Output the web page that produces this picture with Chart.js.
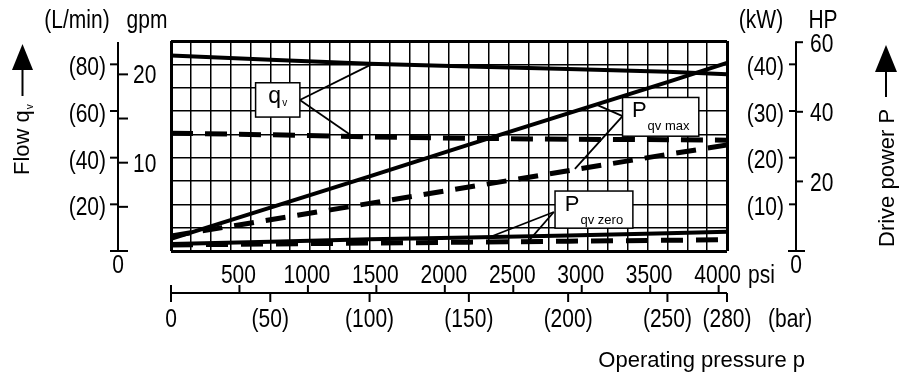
<!DOCTYPE html>
<html>
<head>
<meta charset="utf-8">
<script src="https://cdn.jsdelivr.net/npm/chart.js@4.4.1/dist/chart.umd.min.js"></script>
<style>
  html, body { margin: 0; padding: 0; background: #fff; }
  #wrap { width: 907px; height: 376px; }
</style>
</head>
<body>
<div id="wrap"><canvas id="c" width="907" height="376"></canvas></div>
<script>
// Operating pressure sample points (bar)
const pressureBar = [0, 50, 100, 150, 200, 250, 280];

// Flow q_v (L/min)
const flowSolid  = [83.8, 82.0, 80.2, 79.1, 78.0, 76.8, 75.8];
const flowDashed = [50.5, 49.8, 48.9, 48.3, 47.9, 47.7, 47.5];

// Drive power at q_v max (kW)
const powerMaxSolid  = [2.6, 9.3, 16.0, 22.8, 29.5, 36.2, 40.3];
const powerMaxDashed = [3.2, 6.7, 10.2, 13.7, 17.2, 20.7, 22.7];

// Drive power at q_v zero (kW)
const powerZeroSolid  = [1.5, 2.0, 2.5, 2.9, 3.3, 3.8, 4.1];
const powerZeroDashed = [1.3, 1.5, 1.7, 1.9, 2.1, 2.3, 2.4];

// Axis ticks
const flowTicksLmin   = [20, 40, 60, 80];
const flowTicksGpm    = [5, 10, 15, 20];
const flowLabelsGpm   = ['', '10', '', '20'];
const powerTicksKw    = [10, 20, 30, 40];
const powerTicksHp    = [20, 40, 60];
const pressureTicksPsi = [500, 1000, 1500, 2000, 2500, 3000, 3500, 4000];
const pressureTicksBar = [0, 50, 100, 150, 200, 250, 280];

// Unit conversions
const LMIN_PER_GPM = 3.785;
const KW_PER_HP = 0.7457;
const BAR_PER_PSI = 0.0689476;

const pts = (ys) => pressureBar.map((b, i) => ({ x: b, y: ys[i] }));

function lineSet(ys, axis, width, dash) {
  return {
    data: pts(ys),
    yAxisID: axis,
    borderColor: '#000',
    borderWidth: width,
    borderDash: dash || [],
    borderCapStyle: 'butt',
    pointRadius: 0,
    tension: 0,
    fill: false
  };
}

const SANS = '"Liberation Sans", Arial, Helvetica, sans-serif';

// Text helper with optional horizontal condensing
function txt(ctx, s, x, y, align, size, sx) {
  ctx.save();
  ctx.font = size + 'px ' + SANS;
  ctx.textBaseline = 'alphabetic';
  ctx.textAlign = 'left';
  const w = ctx.measureText(s).width * sx;
  const x0 = align === 'left' ? x : (align === 'right' ? x - w : x - w / 2);
  ctx.translate(x0, y);
  ctx.scale(sx, 1);
  ctx.fillStyle = '#000';
  ctx.fillText(s, 0, 0);
  ctx.restore();
  return w;
}

function seg(ctx, x0, y0, x1, y1, w) {
  ctx.beginPath();
  ctx.lineWidth = w;
  ctx.moveTo(x0, y0);
  ctx.lineTo(x1, y1);
  ctx.stroke();
}

function arrowUp(ctx, cx, tipY, baseY, halfW, stemEnd) {
  ctx.beginPath();
  ctx.moveTo(cx, tipY);
  ctx.lineTo(cx - halfW, baseY);
  ctx.lineTo(cx + halfW, baseY);
  ctx.closePath();
  ctx.fill();
  seg(ctx, cx, baseY - 1, cx, stemEnd, 2);
}

// Curve tags with leader lines (data coordinates)
const tags = [
  { axis: 'y', box: [42.6, 72.1, 64.9, 57.4], from: [64.9, 64.7],
    to: [[101.2, 80.1], [92.1, 48.8]], main: 'q', sub: 'v', mainSize: 23, subSize: 10, mainDy: 19.8, subDy: 23.3 },
  { axis: 'y2', box: [227.4, 32.9, 265.8, 24.6], from: [227.4, 28.9],
    to: [[214.5, 31.3], [203.4, 17.6]], main: 'P', sub: 'qv max', mainSize: 22, subSize: 13, mainDy: 19.5, subDy: 32.5 },
  { axis: 'y2', box: [193.4, 12.85, 232.6, 4.9], from: [192.8, 8.35],
    to: [[160.6, 3.0], [179.8, 2.0]], main: 'P', sub: 'qv zero', mainSize: 22, subSize: 13, mainDy: 19.7, subDy: 32.5 }
];

const decor = {
  id: 'decor',
  afterDraw(chart) {
    const ctx = chart.ctx;
    const xs = chart.scales.x, ys = chart.scales.y, ks = chart.scales.y2;
    const area = chart.chartArea;
    const C = 25, SX = 0.84;
    ctx.save();
    ctx.strokeStyle = '#000';
    ctx.fillStyle = '#000';
    ctx.lineCap = 'butt';

    // Tags
    tags.forEach(t => {
      const vs = t.axis === 'y' ? ys : ks;
      const bx0 = xs.getPixelForValue(t.box[0]), by0 = vs.getPixelForValue(t.box[1]);
      const bx1 = xs.getPixelForValue(t.box[2]), by1 = vs.getPixelForValue(t.box[3]);
      const fx = xs.getPixelForValue(t.from[0]), fy = vs.getPixelForValue(t.from[1]);
      t.to.forEach(p => seg(ctx, fx, fy, xs.getPixelForValue(p[0]), vs.getPixelForValue(p[1]), 1.8));
      ctx.fillStyle = '#fff';
      ctx.fillRect(bx0, by0, bx1 - bx0, by1 - by0);
      ctx.lineWidth = 1.5;
      ctx.strokeRect(bx0, by0, bx1 - bx0, by1 - by0);
      ctx.fillStyle = '#000';
      ctx.font = t.mainSize + 'px ' + SANS;
      const mw = ctx.measureText(t.main).width;
      ctx.font = t.subSize + 'px ' + SANS;
      const sw = ctx.measureText(t.sub).width;
      const start = (bx0 + bx1) / 2 - (mw + 1 + sw) / 2;
      txt(ctx, t.main, start, by0 + t.mainDy, 'left', t.mainSize, 1);
      txt(ctx, t.sub, start + mw + 1, by0 + t.subDy, 'left', t.subSize, 1);
    });

    // Left flow axis
    const lx = area.left - 53;
    const y0 = ys.getPixelForValue(0);
    seg(ctx, lx, ys.getPixelForValue(90) + 1, lx, y0, 2);
    seg(ctx, lx - 8, y0, lx + 10, y0, 2);
    flowTicksLmin.forEach(v => {
      const py = ys.getPixelForValue(v);
      seg(ctx, lx - 8, py, lx, py, 2);
      txt(ctx, '(' + v + ')', lx - 12, py + 11, 'right', C, SX);
    });
    flowTicksGpm.forEach((g, i) => {
      const py = ys.getPixelForValue(g * LMIN_PER_GPM);
      seg(ctx, lx, py, lx + 10, py, 2);
      if (flowLabelsGpm[i]) txt(ctx, flowLabelsGpm[i], lx + 15, py + 9, 'left', C, SX);
    });
    txt(ctx, '0', lx, 273, 'center', C, SX);
    txt(ctx, '(L/min)', 77, 28, 'center', C, SX);
    txt(ctx, 'gpm', 147, 28, 'center', C, SX);

    // Right power axis
    const rx = area.right + 69;
    const hpTop = ks.getPixelForValue(60 * KW_PER_HP);
    seg(ctx, rx, hpTop - 1, rx, y0, 2);
    seg(ctx, rx - 8, y0, rx + 9, y0, 2);
    powerTicksKw.forEach(v => {
      const py = ks.getPixelForValue(v);
      seg(ctx, rx - 7, py, rx, py, 2);
      txt(ctx, '(' + v + ')', rx - 12, py + 10.5, 'right', C, SX);
    });
    powerTicksHp.forEach(h => {
      const py = ks.getPixelForValue(h * KW_PER_HP);
      seg(ctx, rx, py, rx + 7, py, 2);
      txt(ctx, String(h), rx + 14, py + 9.5, 'left', C, SX);
    });
    txt(ctx, '0', rx, 273, 'center', C, SX);
    txt(ctx, '(kW)', 761, 28, 'center', C, SX);
    txt(ctx, 'HP', 823, 28, 'center', C, SX);

    // Bottom pressure axis
    const by = area.bottom + 42;
    const bx0 = xs.getPixelForValue(0), bx1 = xs.getPixelForValue(280);
    seg(ctx, bx0, by, bx1, by, 2);
    seg(ctx, bx0, by - 8, bx0, by + 9, 2);
    pressureTicksPsi.forEach(p => {
      const px = xs.getPixelForValue(p * BAR_PER_PSI);
      seg(ctx, px, by - 8, px, by, 2);
      txt(ctx, String(p), px - 1, 283, 'center', C, SX);
    });
    txt(ctx, 'psi', 748, 283, 'left', C, SX);
    pressureTicksBar.forEach(b => {
      const px = xs.getPixelForValue(b);
      seg(ctx, px, by, px, by + 9, 2);
      txt(ctx, b === 0 ? '0' : '(' + b + ')', px, 327, 'center', C, SX);
    });
    txt(ctx, '(bar)', 768, 327, 'left', C, SX);

    // Axis titles
    txt(ctx, 'Operating pressure p', 805, 367, 'right', 22, 1);

    ctx.save();
    ctx.translate(29, 175);
    ctx.rotate(-Math.PI / 2);
    const fw = txt(ctx, 'Flow q', 0, 0, 'left', 22, 1);
    txt(ctx, 'v', fw + 1, 4, 'left', 10, 1);
    ctx.restore();
    arrowUp(ctx, 22.5, 44, 70, 10.5, 96);

    ctx.save();
    ctx.translate(894, 247);
    ctx.rotate(-Math.PI / 2);
    txt(ctx, 'Drive power P', 0, 0, 'left', 22, 1);
    ctx.restore();
    arrowUp(ctx, 886, 45, 72, 11, 97);

    ctx.restore();
  }
};

const edgeWidth = (lo, hi) => (c) => (c.tick && (c.tick.value === lo || c.tick.value === hi)) ? 3 : 1.5;

new Chart(document.getElementById('c'), {
  type: 'line',
  data: {
    datasets: [
      lineSet(flowSolid, 'y', 4),
      lineSet(flowDashed, 'y', 5, [22, 12]),
      lineSet(powerMaxSolid, 'y2', 4),
      lineSet(powerMaxDashed, 'y2', 5, [20, 12]),
      lineSet(powerZeroSolid, 'y2', 4),
      lineSet(powerZeroDashed, 'y2', 5, [22, 13])
    ]
  },
  options: {
    responsive: false,
    animation: false,
    devicePixelRatio: 1,
    layout: { padding: { left: 171, right: 180, top: 41, bottom: 125 } },
    plugins: { legend: { display: false }, tooltip: { enabled: false } },
    scales: {
      x: {
        type: 'linear', min: 0, max: 280,
        ticks: { display: false, stepSize: 10 },
        grid: { color: '#000', lineWidth: edgeWidth(0, 280), drawTicks: false },
        border: { display: false }
      },
      y: {
        type: 'linear', min: 0, max: 90,
        ticks: { display: false, stepSize: 10 },
        grid: { color: '#000', lineWidth: edgeWidth(0, 90), drawTicks: false },
        border: { display: false }
      },
      y2: {
        type: 'linear', min: 0, max: 45, display: false, position: 'right'
      }
    }
  },
  plugins: [decor]
});
</script>
</body>
</html>
